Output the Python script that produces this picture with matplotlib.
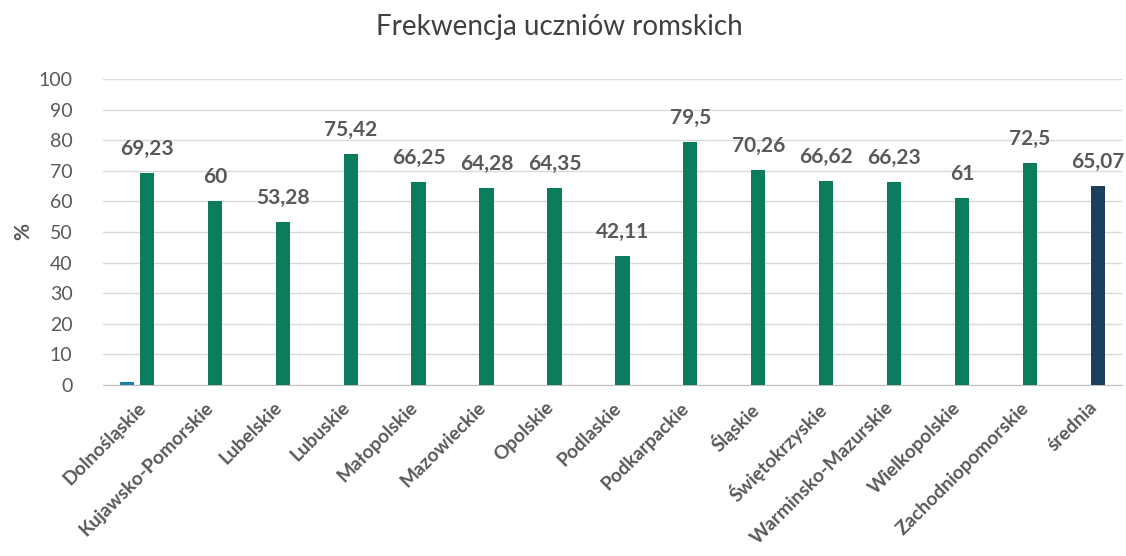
import matplotlib
matplotlib.use("Agg")
import matplotlib.pyplot as plt
import numpy as np

# Dane z wykresu
wojewodztwa = ["Dolnośląskie", "Kujawsko-Pomorskie", "Lubelskie", "Lubuskie",
               "Małopolskie", "Mazowieckie", "Opolskie", "Podlaskie",
               "Podkarpackie", "Śląskie", "Świętokrzyskie", "Warminsko-Mazurskie",
               "Wielkopolskie", "Zachodniopomorskie", "średnia"]
frekwencja = [69.23, 60, 53.28, 75.42, 66.25, 64.28, 64.35, 42.11,
              79.5, 70.26, 66.62, 66.23, 61, 72.5, 65.07]
etykiety = ["69,23", "60", "53,28", "75,42", "66,25", "64,28", "64,35", "42,11",
            "79,5", "70,26", "66,62", "66,23", "61", "72,5", "65,07"]
# druga, prawie pusta seria (widoczna tylko przy pierwszej kategorii)
seria_druga = [1, 0, 0, 0, 0, 0, 0, 0, 0, 0, 0, 0, 0, 0, 0]

plt.rcParams['font.family'] = ['Lato', 'DejaVu Sans']
szary = '#595959'

fig = plt.figure(figsize=(11.26, 5.56), dpi=100)
ax = fig.add_axes([0.0915, 0.3076, 0.905, 0.5504])

x = np.arange(len(wojewodztwa))
kolory = ['#0b7d5c'] * (len(wojewodztwa) - 1) + ['#1d3f5e']

ax.bar(x - 0.145, seria_druga, width=0.21, color='#1b7fa6', zorder=3)
slupki = ax.bar(x + 0.145, frekwencja, width=0.21, color=kolory, zorder=3)

# etykiety wartosci nad slupkami
for s, tekst in zip(slupki, etykiety):
    ax.annotate(tekst, (s.get_x() + s.get_width() / 2, s.get_height()),
                xytext=(0, 24), textcoords='offset pixels',
                ha='center', va='center', fontsize=15, fontweight='bold', color=szary)

ax.set_xlim(-0.5, len(wojewodztwa) - 0.5)
ax.set_ylim(0, 100)
ax.set_yticks(range(0, 101, 10))
ax.grid(axis='y', color='#d9d9d9', linewidth=1, zorder=0)
for sp in ['top', 'right', 'left']:
    ax.spines[sp].set_visible(False)
ax.spines['bottom'].set_color('#bfbfbf')

ax.set_xticks(x)
ax.set_xticklabels(wojewodztwa, rotation=45, ha='right', rotation_mode='anchor',
                   fontsize=13.8, fontweight='bold', color=szary)
ax.tick_params(axis='x', length=0, pad=10)
ax.tick_params(axis='y', length=0, pad=22, labelsize=14, labelcolor=szary)

ax.set_ylabel('%', fontsize=15, fontweight='bold', color=szary, labelpad=4)
fig.suptitle('Frekwencja uczniów romskich', x=0.497, y=0.975, fontsize=20, color='#404040')

fig.savefig('out.png', dpi=100)
